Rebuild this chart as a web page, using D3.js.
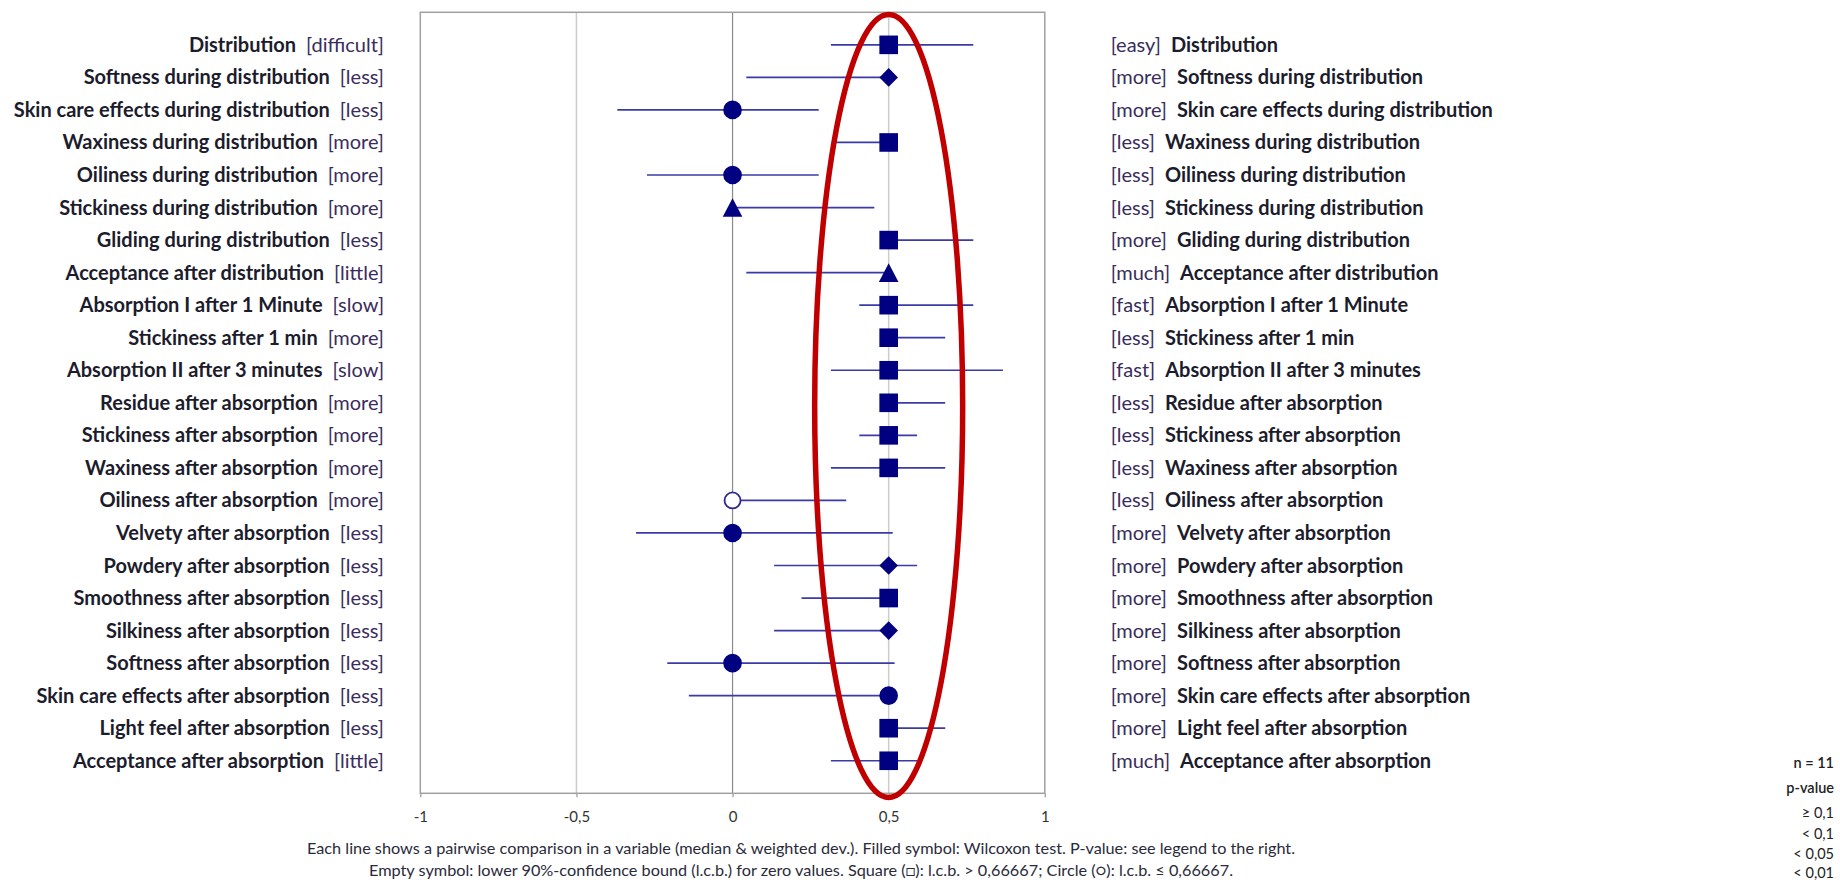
<!DOCTYPE html>
<html>
<head>
<meta charset="utf-8">
<script src="https://cdn.jsdelivr.net/npm/d3@7"></script>
<style>
  body { margin: 0; background: #fff; }
  text { font-family: Lato, "Open Sans", sans-serif; }
</style>
</head>
<body>
<div id="graphique"></div>
<script>
// --- DONNÉES ---
const variables = [
  "Distribution", "Softness during distribution", "Skin care effects during distribution",
  "Waxiness during distribution", "Oiliness during distribution", "Stickiness during distribution",
  "Gliding during distribution", "Acceptance after distribution", "Absorption I after 1 Minute",
  "Stickiness after 1 min", "Absorption II after 3 minutes", "Residue after absorption",
  "Stickiness after absorption", "Waxiness after absorption", "Oiliness after absorption",
  "Velvety after absorption", "Powdery after absorption", "Smoothness after absorption",
  "Silkiness after absorption", "Softness after absorption", "Skin care effects after absorption",
  "Light feel after absorption", "Acceptance after absorption"
];
const polesGauche = ["[difficult]", "[less]", "[less]", "[more]", "[more]", "[more]", "[less]", "[little]",
  "[slow]", "[more]", "[slow]", "[more]", "[more]", "[more]", "[more]", "[less]", "[less]", "[less]",
  "[less]", "[less]", "[less]", "[less]", "[little]"];
const polesDroite = ["[easy]", "[more]", "[more]", "[less]", "[less]", "[less]", "[more]", "[much]",
  "[fast]", "[less]", "[fast]", "[less]", "[less]", "[less]", "[less]", "[more]", "[more]", "[more]",
  "[more]", "[more]", "[more]", "[more]", "[much]"];
const medianes = [0.5, 0.5, 0, 0.5, 0, 0, 0.5, 0.5, 0.5, 0.5, 0.5, 0.5, 0.5, 0.5, 0, 0, 0.5, 0.5, 0.5, 0, 0.5, 0.5, 0.5];
const bornesBasses = [0.315, 0.044, -0.369, 0.33, -0.274, 0, 0.5, 0.044, 0.406, 0.5, 0.315, 0.5,
  0.406, 0.315, 0, -0.309, 0.133, 0.221, 0.133, -0.209, -0.14, 0.5, 0.315];
const bornesHautes = [0.771, 0.5, 0.276, 0.5, 0.276, 0.454, 0.771, 0.5, 0.771, 0.681, 0.866, 0.681,
  0.591, 0.681, 0.364, 0.513, 0.591, 0.5, 0.5, 0.519, 0.5, 0.681, 0.591];
const symboles = ["square", "diamond", "circle", "square", "circle", "triangle", "square", "triangle",
  "square", "square", "square", "square", "square", "square", "circle", "circle", "diamond", "square",
  "diamond", "circle", "circle", "square", "square"];
const remplis = [true, true, true, true, true, true, true, true, true, true, true, true, true, true,
  false, true, true, true, true, true, true, true, true];
const ticksX = [-1, -0.5, 0, 0.5, 1];
const legendeLignes = ["n = 11", "p-value", "\u2265 0,1", "< 0,1", "< 0,05", "< 0,01"];
const notes = [
  "Each line shows a pairwise comparison in a variable (median & weighted dev.). Filled symbol: Wilcoxon test. P-value: see legend to the right.",
  "Empty symbol: lower 90%-confidence bound (l.c.b.) for zero values. Square (\u25A1): l.c.b. > 0,66667; Circle (\u25CB): l.c.b. \u2264 0,66667."
];

// --- CONFIGURATION ---
const largeur = 1840;
const hauteur = 882;
const cadre = { gauche: 420.3, droite: 1044.8, haut: 12.3, bas: 793.3 };

const lignes = variables.map((v, i) => ({
  nom: v, gauche: polesGauche[i], droite: polesDroite[i],
  med: medianes[i], bas: bornesBasses[i], haut: bornesHautes[i],
  forme: symboles[i], plein: remplis[i]
}));

const svg = d3.select("#graphique").append("svg")
  .attr("width", largeur)
  .attr("height", hauteur)
  .style("display", "block");

svg.append("rect").attr("width", largeur).attr("height", hauteur).attr("fill", "#fff");

// --- ÉCHELLES ---
const x = d3.scaleLinear().domain([-1, 1]).range([cadre.gauche, cadre.droite]);
const y = d3.scalePoint().domain(variables).range([cadre.haut, cadre.bas]).padding(1);

// petit outil : texte centré verticalement sur (px, py)
function texte(parent, px, py) {
  return parent.append("text")
    .attr("x", px).attr("y", py)
    .attr("dy", "0.35em");
}

// --- GRILLE ET CADRE ---
svg.append("g").selectAll("line")
  .data(ticksX.filter(t => t !== -1 && t !== 1))
  .join("line")
  .attr("x1", d => x(d)).attr("x2", d => x(d))
  .attr("y1", cadre.haut).attr("y2", cadre.bas)
  .attr("stroke", d => d === 0 ? "#8a8a8a" : "#cccccc")
  .attr("stroke-width", d => d === 0 ? 1.2 : 1.5);

svg.append("rect")
  .attr("x", cadre.gauche).attr("y", cadre.haut)
  .attr("width", cadre.droite - cadre.gauche).attr("height", cadre.bas - cadre.haut)
  .attr("fill", "none").attr("stroke", "#a0a0a0").attr("stroke-width", 1.5);

// --- AXE X ---
const locale = d3.formatLocale({ decimal: ",", thousands: ".", grouping: [3], currency: ["", ""], minus: "-" });
const axe = svg.append("g")
  .attr("transform", `translate(0,${cadre.bas})`)
  .call(d3.axisBottom(x).tickValues(ticksX).tickSize(4).tickFormat(locale.format("")));
axe.select(".domain").remove();
axe.selectAll("line").attr("stroke", "#a0a0a0").attr("stroke-width", 1.3);
axe.selectAll("text")
  .attr("y", 23).attr("dy", "0.35em")
  .attr("font-size", 15).attr("fill", "#333")
  .style("font-family", "Lato, sans-serif");

// --- BARRES D'ERREUR ---
svg.append("g").selectAll("line")
  .data(lignes)
  .join("line")
  .attr("x1", d => x(d.bas)).attr("x2", d => x(d.haut))
  .attr("y1", d => y(d.nom)).attr("y2", d => y(d.nom))
  .attr("stroke", "#3b3ba8").attr("stroke-width", 1.7);

// --- SYMBOLES ---
function formeChemin(forme, r) {
  if (forme === "square") return `M${-r},${-r}H${r}V${r}H${-r}Z`;
  if (forme === "diamond") return `M0,${-r}L${r},0L0,${r}L${-r},0Z`;
  if (forme === "triangle") return `M0,${-r}L${r + 0.5},${r}H${-r - 0.5}Z`;
  return `M${-r},0A${r},${r} 0 1,0 ${r},0A${r},${r} 0 1,0 ${-r},0Z`;
}
svg.append("g").selectAll("path")
  .data(lignes)
  .join("path")
  .attr("transform", d => `translate(${x(d.med)},${y(d.nom)})`)
  .attr("d", d => d.plein ? formeChemin(d.forme, 9.3) : formeChemin(d.forme, 8))
  .attr("fill", d => d.plein ? "#000080" : "#fff")
  .attr("stroke", d => d.plein ? "none" : "#2a2a90")
  .attr("stroke-width", 1.8);

// --- ÉTIQUETTES GAUCHE ---
const gGauche = svg.append("g").attr("font-size", 20);
lignes.forEach(d => {
  const t = texte(gGauche, 384, y(d.nom)).attr("text-anchor", "end");
  t.append("tspan").attr("font-weight", "bold").attr("fill", "#1c1c2c").text(d.nom);
  t.append("tspan").attr("dx", 10).attr("fill", "#3a2d5c").text(d.gauche);
});

// --- ÉTIQUETTES DROITE ---
const gDroite = svg.append("g").attr("font-size", 20);
lignes.forEach(d => {
  const t = texte(gDroite, 1110.7, y(d.nom));
  t.append("tspan").attr("fill", "#3a2d5c").text(d.droite);
  t.append("tspan").attr("dx", 10).attr("font-weight", "bold").attr("fill", "#1c1c2c").text(d.nom);
});

// --- ELLIPSE ROUGE ---
svg.append("ellipse")
  .attr("cx", x(0.5)).attr("cy", 406)
  .attr("rx", 74).attr("ry", 391.5)
  .attr("fill", "none").attr("stroke", "#c00000").attr("stroke-width", 5.5);

// --- NOTE EN BAS ---
const ysNotes = [848, 870.7];
const largeursNotes = [988, 864];
notes.forEach((n, i) => {
  texte(svg, 801, ysNotes[i])
    .attr("text-anchor", "middle").attr("font-size", 16).attr("fill", "#2a2a3a")
    .attr("textLength", largeursNotes[i]).attr("lengthAdjust", "spacingAndGlyphs")
    .text(n);
});

// --- LÉGENDE ---
const ysLegende = [763, 788, 813, 834, 854, 873];
legendeLignes.forEach((l, i) => {
  texte(svg, 1834, ysLegende[i])
    .attr("text-anchor", "end").attr("font-size", 14.5)
    .attr("font-weight", i < 2 ? 600 : 400).attr("fill", "#222")
    .text(l);
});
</script>
</body>
</html>
